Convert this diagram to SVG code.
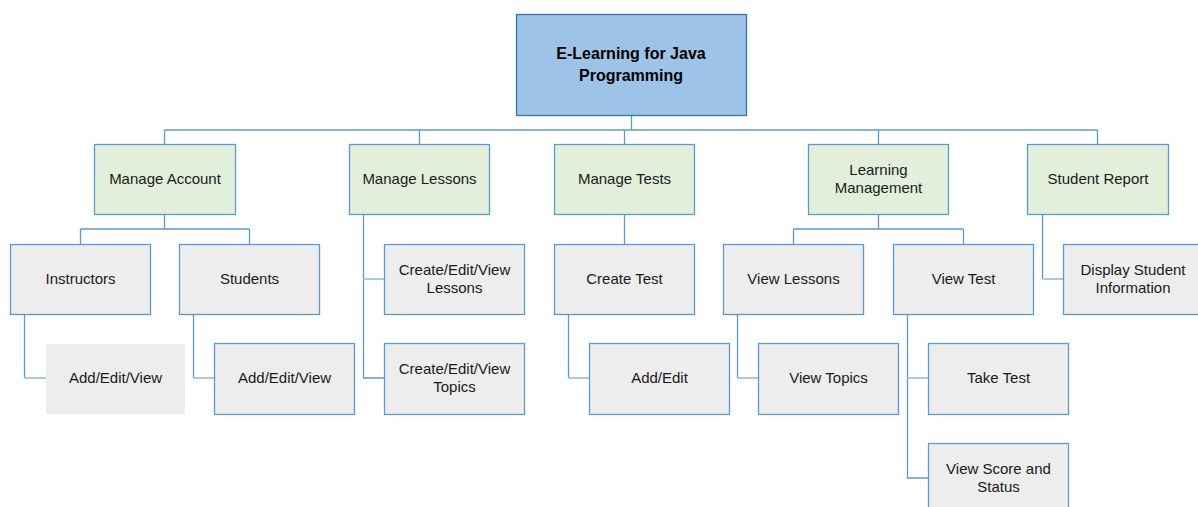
<svg xmlns="http://www.w3.org/2000/svg" width="1198" height="507" viewBox="0 0 1198 507">
<style>
.l1{fill:#E2EFDA;stroke:#5B9BD5;stroke-width:1.3}
.l2{fill:#EDEDED;stroke:#5B9BD5;stroke-width:1.3}
.nb{fill:#EDEDED;stroke:none}
.root{fill:#9DC3E6;stroke:#2E75B6;stroke-width:1.3}
text{font-family:"Liberation Sans",Arial,sans-serif;font-size:15px;fill:#1a1a1a;text-anchor:middle}
.b{font-weight:bold;font-size:16px;fill:#000}
.c{fill:none;stroke:#5B9BD5;stroke-width:1.3}
.s{fill:none;stroke:#A9C9EA;stroke-width:2}
</style>
<g id="connectors">
<path class="c" d="M631.5 115V130M164.5 130H1097.5M164.5 130V144M419.5 130V144M624.5 130V144M878.5 130V144M1097.5 130V144"/>
<path class="c" d="M164.5 214V229M80.5 229H249.5M80.5 229V244M249.5 229V244"/>
<path class="c" d="M24.5 314V378M193.5 314V378"/>
<path class="s" d="M24.5 378H46M193.5 378H214"/>
<path class="c" d="M363.5 214V378H384"/>
<path class="s" d="M363.5 279H384"/>
<path class="c" d="M624.5 214V244M568.5 314V378"/>
<path class="s" d="M568.5 378H589"/>
<path class="c" d="M878.5 214V229M793.5 229H963.5M793.5 229V244M963.5 229V244"/>
<path class="c" d="M737.5 314V378"/>
<path class="s" d="M737.5 378H758"/>
<path class="c" d="M907.5 314V478H928"/>
<path class="s" d="M907.5 378H928"/>
<path class="c" d="M1042.5 214V279"/>
<path class="s" d="M1042.5 279H1063"/>
</g>
<g id="root"><rect class="root" x="516.5" y="14.5" width="230" height="101"/><text class="b" x="631" y="59">E-Learning for Java</text><text class="b" x="631" y="81">Programming</text></g>
<g id="manage-account"><rect class="l1" x="94.5" y="144.5" width="141" height="70"/><text x="165" y="184">Manage Account</text></g>
<g id="manage-lessons"><rect class="l1" x="349.5" y="144.5" width="140" height="70"/><text x="419.5" y="184">Manage Lessons</text></g>
<g id="manage-tests"><rect class="l1" x="554.5" y="144.5" width="140" height="70"/><text x="624.5" y="184">Manage Tests</text></g>
<g id="learning-management"><rect class="l1" x="808.5" y="144.5" width="140" height="70"/><text x="878.5" y="175">Learning</text><text x="878.5" y="193">Management</text></g>
<g id="student-report"><rect class="l1" x="1027.5" y="144.5" width="141" height="70"/><text x="1098" y="184">Student Report</text></g>
<g id="instructors"><rect class="l2" x="10.5" y="244.5" width="140" height="70"/><text x="80.5" y="284">Instructors</text></g>
<g id="students"><rect class="l2" x="179.5" y="244.5" width="140" height="70"/><text x="249.5" y="284">Students</text></g>
<g id="cev-lessons"><rect class="l2" x="384.5" y="244.5" width="140" height="70"/><text x="454.5" y="275">Create/Edit/View</text><text x="454.5" y="293">Lessons</text></g>
<g id="create-test"><rect class="l2" x="554.5" y="244.5" width="140" height="70"/><text x="624.5" y="284">Create Test</text></g>
<g id="view-lessons"><rect class="l2" x="723.5" y="244.5" width="140" height="70"/><text x="793.5" y="284">View Lessons</text></g>
<g id="view-test"><rect class="l2" x="893.5" y="244.5" width="140" height="70"/><text x="963.5" y="284">View Test</text></g>
<g id="display-student-info"><rect class="l2" x="1063.5" y="244.5" width="140" height="70"/><text x="1133" y="275">Display Student</text><text x="1133" y="293">Information</text></g>
<g id="instr-add"><rect class="nb" x="46" y="344" width="139" height="70"/><text x="115.5" y="383">Add/Edit/View</text></g>
<g id="stud-add"><rect class="l2" x="214.5" y="343.5" width="140" height="71"/><text x="284.5" y="383">Add/Edit/View</text></g>
<g id="cev-topics"><rect class="l2" x="384.5" y="343.5" width="140" height="71"/><text x="454.5" y="374">Create/Edit/View</text><text x="454.5" y="392">Topics</text></g>
<g id="add-edit"><rect class="l2" x="589.5" y="343.5" width="140" height="71"/><text x="659.5" y="383">Add/Edit</text></g>
<g id="view-topics"><rect class="l2" x="758.5" y="343.5" width="140" height="71"/><text x="828.5" y="383">View Topics</text></g>
<g id="take-test"><rect class="l2" x="928.5" y="343.5" width="140" height="71"/><text x="998.5" y="383">Take Test</text></g>
<g id="view-score"><rect class="l2" x="928.5" y="443.5" width="140" height="71"/><text x="998.5" y="474">View Score and</text><text x="998.5" y="492">Status</text></g>
</svg>
